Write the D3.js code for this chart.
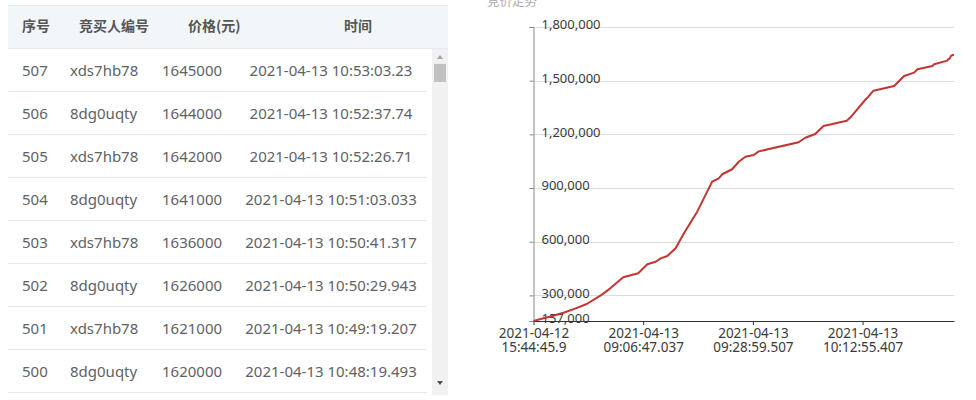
<!DOCTYPE html>
<html>
<head>
<meta charset="utf-8">
<script src="https://cdn.jsdelivr.net/npm/d3@7"></script>
<style>
    body { margin: 0; background: #fff; }
    svg { display: block; font-family: "Noto Sans", "Noto Sans CJK SC", sans-serif; }
</style>
</head>
<body>
<div id="vis"></div>
<script>
// table rows (latest bids first)
var seqs = [507, 506, 505, 504, 503, 502, 501, 500];
var bidders = ["xds7hb78", "8dg0uqty", "xds7hb78", "8dg0uqty", "xds7hb78", "8dg0uqty", "xds7hb78", "8dg0uqty"];
var prices = [1645000, 1644000, 1642000, 1641000, 1636000, 1626000, 1621000, 1620000];
var times = ["2021-04-13 10:53:03.23", "2021-04-13 10:52:37.74", "2021-04-13 10:52:26.71",
    "2021-04-13 10:51:03.033", "2021-04-13 10:50:41.317", "2021-04-13 10:50:29.943",
    "2021-04-13 10:49:19.207", "2021-04-13 10:48:19.493"];
var headers = ["序号", "竞买人编号", "价格(元)", "时间"];

// price trend (bid index -> price)
var bidIndex = [0, 12, 24, 36, 50, 64, 80, 92, 108, 126, 137, 147, 153, 161, 171, 181, 197, 215, 223, 227, 239, 247, 255,
    265, 271, 319, 327, 339, 349, 377, 383, 399, 403, 409, 434, 446, 458, 462, 480, 482, 498,
    499, 500, 501, 502, 503, 504, 505, 506];
var bidPrice = [157000, 172000, 186000, 203000, 226000, 252000, 297000, 338000, 401000, 424000, 474000, 488000, 507000, 520000, 563000,
    647000, 768000, 936000, 954000, 977000, 1005000, 1047000, 1075000, 1085000, 1105000,
    1156000, 1181000, 1202000, 1247000, 1276000, 1303000, 1392000, 1411000, 1444000, 1470000,
    1526000, 1545000, 1564000, 1582000, 1592000, 1612000,
    1620000, 1621000, 1626000, 1636000, 1641000, 1642000, 1644000, 1645000];
var bidCount = 507;
var yTicks = [157000, 300000, 600000, 900000, 1200000, 1500000, 1800000];
var xTickIndex = [0, 132, 264, 396];
var xTickLabels = ["2021-04-12 15:44:45.9", "2021-04-13 09:06:47.037", "2021-04-13 09:28:59.507", "2021-04-13 10:12:55.407"];

var width = 976, height = 400;
var svg = d3.select("#vis").append("svg")
    .attr("width", width)
    .attr("height", height);

// ---- table ----
var table = svg.append("g");
var rowH = 43, headTop = 5, headBottom = 48;

table.append("rect")
    .attr("x", 8).attr("y", headTop)
    .attr("width", 440).attr("height", headBottom - headTop)
    .attr("fill", "#f3f6f9");
table.append("line")
    .attr("x1", 8).attr("x2", 448)
    .attr("y1", headTop + 0.5).attr("y2", headTop + 0.5)
    .attr("stroke", "#e4e7ed");

var headX = [22, 79, 188, 358];
var headAnchor = ["start", "start", "start", "middle"];
table.selectAll(".head")
    .data(headers)
    .enter().append("text")
    .attr("class", "head")
    .attr("x", function(d, i) { return headX[i]; })
    .attr("y", (headTop + headBottom) / 2)
    .attr("dy", "0.35em")
    .attr("text-anchor", function(d, i) { return headAnchor[i]; })
    .attr("font-size", 14)
    .attr("font-weight", "bold")
    .attr("font-family", "'Noto Sans CJK SC', sans-serif")
    .attr("fill", "#555")
    .text(function(d) { return d; });

var rows = table.selectAll(".row")
    .data(seqs)
    .enter().append("g")
    .attr("class", "row")
    .attr("transform", function(d, i) { return "translate(0," + (headBottom + i * rowH) + ")"; });

rows.append("line")
    .attr("x1", 8).attr("x2", 427)
    .attr("y1", rowH + 0.5).attr("y2", rowH + 0.5)
    .attr("stroke", "#e6e9ef");
table.append("line")
    .attr("x1", 8).attr("x2", 448)
    .attr("y1", headBottom + 0.5).attr("y2", headBottom + 0.5)
    .attr("stroke", "#e6e9ef");

function cell(x, anchor, fn) {
    rows.append("text")
        .attr("x", x)
        .attr("y", rowH / 2 + 1)
        .attr("dy", "0.35em")
        .attr("text-anchor", anchor)
        .attr("font-size", 15)
        .attr("fill", "#606266")
        .text(fn);
}
cell(22, "start", function(d) { return d; });
cell(70, "start", function(d, i) { return bidders[i]; });
cell(162, "start", function(d, i) { return prices[i]; });
cell(331, "middle", function(d, i) { return times[i]; });

// scrollbar
table.append("rect")
    .attr("x", 432).attr("y", headBottom + 1)
    .attr("width", 16).attr("height", 346)
    .attr("fill", "#f1f1f1");
table.append("rect")
    .attr("x", 434).attr("y", 64)
    .attr("width", 12).attr("height", 18)
    .attr("fill", "#c1c1c1");
table.append("path")
    .attr("d", "M437,59 L443,59 L440,55 Z")
    .attr("fill", "#a3a3a3");
table.append("path")
    .attr("d", "M437,381 L443,381 L440,385 Z")
    .attr("fill", "#505050");

// ---- chart ----
var margin = { left: 533.5, right: 22, top: 27, bottom: 79 };
var x = d3.scaleLinear()
    .domain([0, bidCount - 1])
    .range([margin.left, width - margin.right]);
var y = d3.scaleLinear()
    .domain([157000, 1800000])
    .range([height - margin.bottom, margin.top]);

svg.append("text")
    .attr("x", 487)
    .attr("y", 6)
    .attr("font-size", 12.5)
    .attr("font-family", "'Noto Sans CJK SC', sans-serif")
    .attr("fill", "#aaa")
    .text("竞价走势");

// grid lines
svg.append("g")
    .selectAll("line")
    .data(yTicks.slice(1))
    .enter().append("line")
    .attr("x1", margin.left).attr("x2", width - margin.right)
    .attr("y1", function(d) { return Math.round(y(d)) + 0.5; })
    .attr("y2", function(d) { return Math.round(y(d)) + 0.5; })
    .attr("stroke", "#dcdcdc");

var yAxis = d3.axisLeft(y)
    .tickValues(yTicks)
    .tickSize(4)
    .tickFormat(d3.format(","));
var gy = svg.append("g")
    .attr("transform", "translate(" + margin.left + ",0)")
    .call(yAxis);
gy.select(".domain").attr("stroke", "#888");
gy.selectAll(".tick line").attr("stroke", "#888");
gy.selectAll(".tick text")
    .attr("x", 8)
    .attr("dy", "0.15em")
    .attr("text-anchor", "start")
    .attr("font-size", 13)
    .attr("font-family", "'Noto Sans', sans-serif")
    .attr("fill", "#3a3a3a");

var xAxis = d3.axisBottom(x)
    .tickValues(xTickIndex)
    .tickSize(4)
    .tickSizeOuter(0)
    .tickFormat(function(d, i) { return xTickLabels[i]; });
var gx = svg.append("g")
    .attr("transform", "translate(0," + (height - margin.bottom) + ")")
    .call(xAxis);
gx.select(".domain").attr("stroke", "#333");
gx.selectAll(".tick line").attr("stroke", "#333");
gx.selectAll(".tick text").each(function(d, i) {
    var parts = xTickLabels[i].split(" ");
    var t = d3.select(this).text(null)
        .attr("y", 0)
        .attr("dy", null)
        .attr("font-size", 13.5)
        .attr("font-family", "'Noto Sans', sans-serif")
        .attr("fill", "#3a3a3a");
    t.append("tspan").attr("x", 0).attr("y", 17).text(parts[0]);
    t.append("tspan").attr("x", 0).attr("y", 31).text(parts[1]);
});

var line = d3.line()
    .x(function(d, i) { return x(bidIndex[i]); })
    .y(function(d) { return y(d); });

svg.append("path")
    .datum(bidPrice)
    .attr("fill", "none")
    .attr("stroke", "#c23531")
    .attr("stroke-width", 2)
    .attr("stroke-linejoin", "round")
    .attr("d", line);
</script>
</body>
</html>
